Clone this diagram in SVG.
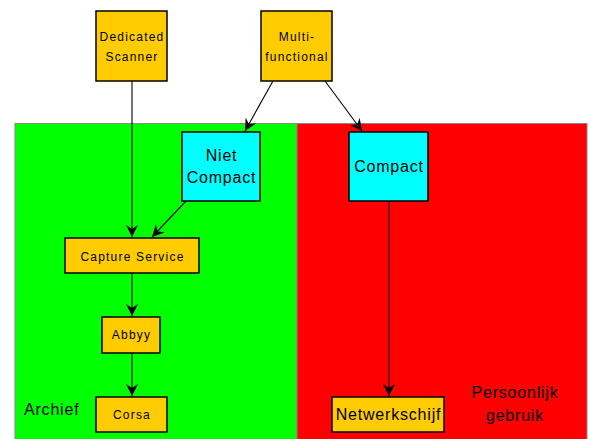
<svg xmlns="http://www.w3.org/2000/svg" width="590" height="439" viewBox="0 0 590 439">
<style>
.lane{stroke:#888;stroke-width:1}
.y{fill:#FFCC00;stroke:#000;stroke-width:1.5}
.c{fill:#00FFFF;stroke:#000;stroke-width:1.5}
.s{font-family:"Liberation Sans",Arial,sans-serif;font-size:12px;letter-spacing:1.2px;fill:#000;text-anchor:middle}
.m{font-family:"Liberation Sans",Arial,sans-serif;font-size:16px;letter-spacing:0.8px;fill:#000;text-anchor:middle}
.l{font-family:"Liberation Sans",Arial,sans-serif;font-size:16px;letter-spacing:0.8px;fill:#000}
.e{stroke:#000;stroke-width:1.1;fill:none;marker-end:url(#a)}
</style>
<defs>
<marker id="a" markerWidth="13" markerHeight="13" refX="12" refY="6.5" orient="auto" markerUnits="userSpaceOnUse">
<path d="M0,0.5 L12,6.5 L0,12.5 L4,6.5 Z" fill="#000"/>
</marker>
</defs>
<rect width="590" height="439" fill="#fff"/>
<g id="archief">
<rect class="lane" x="15" y="123.5" width="282" height="320" fill="#00FF00"/>
<text class="l" x="24" y="415">Archief</text>
</g>
<g id="persoonlijk">
<rect class="lane" x="297" y="123.5" width="290" height="320" fill="#FF0000"/>
<text class="m" x="515" y="398">Persoonlijk</text>
<text class="m" x="515" y="421">gebruik</text>
</g>
<g id="connectors">
<line class="e" x1="132" y1="81" x2="132" y2="237"/>
<line class="e" x1="273" y1="81" x2="245" y2="131"/>
<line class="e" x1="325" y1="81" x2="362" y2="131"/>
<line class="e" x1="186" y1="201" x2="152" y2="237"/>
<line class="e" x1="132" y1="273" x2="132" y2="316"/>
<line class="e" x1="132" y1="353" x2="132" y2="396"/>
<line class="e" x1="389" y1="201" x2="389" y2="396"/>
</g>
<g id="dedicated-scanner">
<rect class="y" x="96" y="11" width="71" height="70"/>
<text class="s" x="132" y="41">Dedicated</text>
<text class="s" x="132" y="61">Scanner</text>
</g>
<g id="multi-functional">
<rect class="y" x="261" y="11" width="71" height="70"/>
<text class="s" x="297" y="41">Multi-</text>
<text class="s" x="297" y="61">functional</text>
</g>
<g id="niet-compact">
<rect class="c" x="182" y="132" width="78" height="69"/>
<text class="m" x="221.5" y="161">Niet</text>
<text class="m" x="221.5" y="183">Compact</text>
</g>
<g id="compact">
<rect class="c" x="349" y="132" width="79" height="69"/>
<text class="m" x="389" y="172">Compact</text>
</g>
<g id="capture-service">
<rect class="y" x="65" y="238" width="134" height="35"/>
<text class="s" x="132.5" y="261">Capture Service</text>
</g>
<g id="abbyy">
<rect class="y" x="102" y="317" width="58" height="36"/>
<text class="s" x="131.5" y="339">Abbyy</text>
</g>
<g id="corsa">
<rect class="y" x="96" y="397" width="71" height="35"/>
<text class="s" x="132" y="419">Corsa</text>
</g>
<g id="netwerkschijf">
<rect class="y" x="332" y="397" width="112" height="35"/>
<text class="m" x="388.5" y="420">Netwerkschijf</text>
</g>
</svg>
